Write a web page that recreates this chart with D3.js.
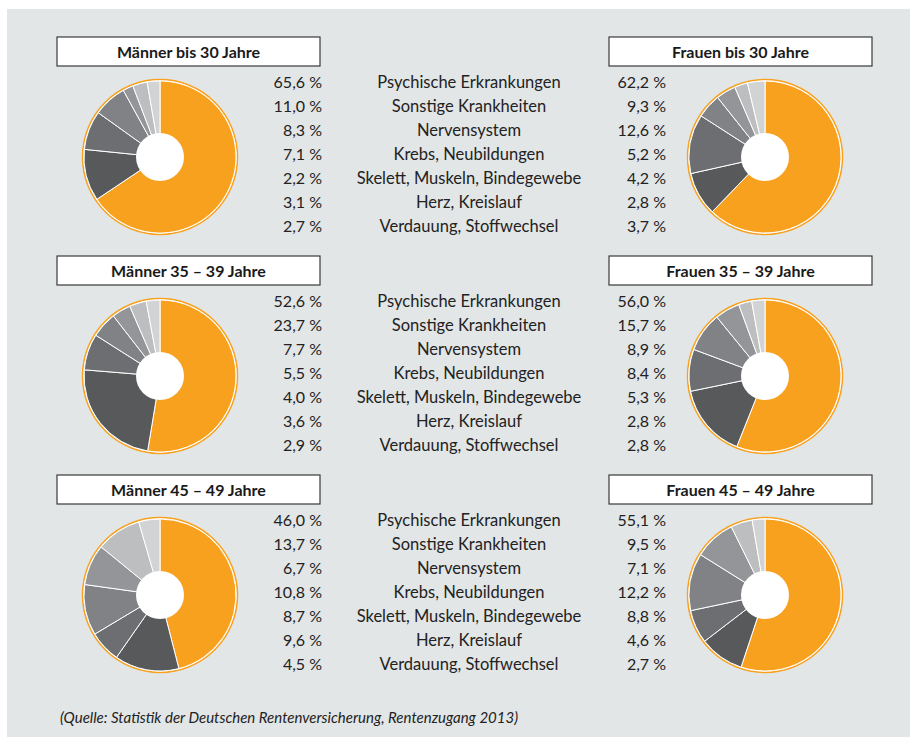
<!DOCTYPE html>
<html>
<head>
<meta charset="utf-8">
<script src="https://cdn.jsdelivr.net/npm/d3@7"></script>
<style>
  body { margin: 0; background: #fff; }
  svg { display: block; font-family: Lato, "Open Sans", sans-serif; }
</style>
</head>
<body>
<svg id="chart" width="910" height="737"></svg>
<script>
// Kategorien (Reihenfolge wie im Diagramm)
const categories = [
    "Psychische Erkrankungen",
    "Sonstige Krankheiten",
    "Nervensystem",
    "Krebs, Neubildungen",
    "Skelett, Muskeln, Bindegewebe",
    "Herz, Kreislauf",
    "Verdauung, Stoffwechsel"
];

const groupTitles = [
    ["Männer bis 30 Jahre", "Frauen bis 30 Jahre"],
    ["Männer 35 – 39 Jahre", "Frauen 35 – 39 Jahre"],
    ["Männer 45 – 49 Jahre", "Frauen 45 – 49 Jahre"]
];

const maenner30 = [65.6, 11.0, 8.3, 7.1, 2.2, 3.1, 2.7];
const frauen30  = [62.2, 9.3, 12.6, 5.2, 4.2, 2.8, 3.7];
const maenner35 = [52.6, 23.7, 7.7, 5.5, 4.0, 3.6, 2.9];
const frauen35  = [56.0, 15.7, 8.9, 8.4, 5.3, 2.8, 2.8];
const maenner45 = [46.0, 13.7, 6.7, 10.8, 8.7, 9.6, 4.5];
const frauen45  = [55.1, 9.5, 7.1, 12.2, 8.8, 4.6, 2.7];

const sourceNote = "(Quelle: Statistik der Deutschen Rentenversicherung, Rentenzugang 2013)";

const rows = [[maenner30, frauen30], [maenner35, frauen35], [maenner45, frauen45]];

const svg = d3.select("#chart");

// Hintergrund
svg.append("rect")
    .attr("x", 7).attr("y", 9)
    .attr("width", 903).attr("height", 728)
    .attr("fill", "#e2e6e6");

const color = d3.scaleOrdinal()
    .domain(categories)
    .range(["#f8a11f", "#58595b", "#6d6e71", "#808285", "#939598", "#bcbec0", "#d1d3d4"]);

const pie = d3.pie().sort(null).value(d => d.value);
const arc = d3.arc().innerRadius(0).outerRadius(76);

const fmt = v => d3.format(".1f")(v).replace(".", ",") + " %";

const rowStep = 219;
const lineStep = 24;

rows.forEach((pair, r) => {
    let top = 37 + r * rowStep;
    let g = svg.append("g").attr("transform", "translate(0," + top + ")");

    // Titelboxen
    [[57, 0], [609, 1]].forEach(([bx, side]) => {
        g.append("rect")
            .attr("x", bx).attr("y", 0)
            .attr("width", 263).attr("height", 29)
            .attr("fill", "#fff")
            .attr("stroke", "#3a3a3a")
            .attr("stroke-width", 1.2);
        g.append("text")
            .attr("x", bx + 131.5).attr("y", 21)
            .attr("text-anchor", "middle")
            .attr("font-size", 16)
            .attr("font-weight", "bold")
            .attr("fill", "#1a1a1a")
            .text(groupTitles[r][side]);
    });

    // Tortendiagramme
    [[160, pair[0]], [765, pair[1]]].forEach(([cx, vals]) => {
        let data = categories.map((c, i) => ({cat: c, value: vals[i]}));
        let pg = g.append("g").attr("transform", "translate(" + cx + ",120)");
        pg.append("circle")
            .attr("r", 77.5)
            .attr("fill", "#fff")
            .attr("stroke", "#f8a11f")
            .attr("stroke-width", 1.5);
        pg.selectAll("path")
            .data(pie(data))
            .enter().append("path")
            .attr("d", arc)
            .attr("fill", d => color(d.data.cat))
            .attr("stroke", "#fff")
            .attr("stroke-width", 1);
        pg.append("circle").attr("r", 24).attr("fill", "#fff");
    });

    // Werte und Kategorien
    categories.forEach((c, i) => {
        let y = 50.5 + i * lineStep;
        g.append("text")
            .attr("x", 322).attr("y", y)
            .attr("text-anchor", "end")
            .attr("font-size", 16).attr("fill", "#222")
            .text(fmt(pair[0][i]));
        g.append("text")
            .attr("x", 469).attr("y", y)
            .attr("text-anchor", "middle")
            .attr("font-size", 16.5).attr("fill", "#222")
            .text(c);
        g.append("text")
            .attr("x", 666).attr("y", y)
            .attr("text-anchor", "end")
            .attr("font-size", 16).attr("fill", "#222")
            .text(fmt(pair[1][i]));
    });
});

svg.append("text")
    .attr("x", 60).attr("y", 723)
    .attr("font-size", 15)
    .attr("font-style", "italic")
    .attr("fill", "#222")
    .text(sourceNote);
</script>
</body>
</html>
